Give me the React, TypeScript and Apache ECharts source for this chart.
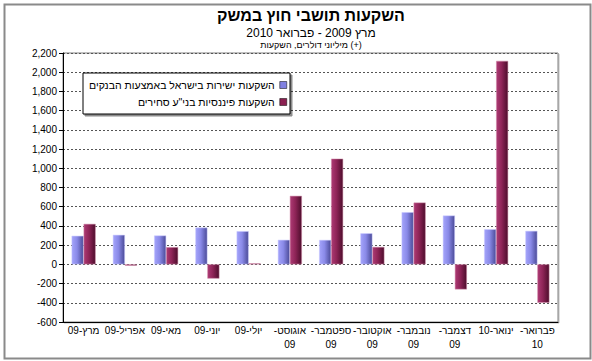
import React, { useEffect, useRef } from "react";
import * as echarts from "echarts";

const titleText = "השקעות תושבי חוץ במשק";
const subtitleText = "מרץ 2009 - פברואר 2010";
const unitText = "מיליוני דולרים, השקעות";
const unitSign = "(+)";

const categories = [
  "מרץ-09",
  "אפריל-09",
  "מאי-09",
  "יוני-09",
  "יולי-09",
  "אוגוסט-09",
  "ספטמבר-09",
  "אוקטובר-09",
  "נובמבר-09",
  "דצמבר-09",
  "ינואר-10",
  "פברואר-10",
];
const wrappedCategories = ["אוגוסט-09", "ספטמבר-09", "אוקטובר-09", "נובמבר-09", "דצמבר-09", "פברואר-10"];

const seriesNames = ["השקעות ישירות בישראל באמצעות הבנקים", 'השקעות פיננסיות בני"ע סחירים'];
const directViaBanks = [297, 307, 300, 383, 345, 255, 254, 323, 543, 508, 365, 348];
const financialSecurities = [421, -14, 179, -148, 10, 713, 1100, 181, 643, -261, 2118, -400];

const yMin = -600;
const yMax = 2200;
const yInterval = 200;

const FONT = 'Arial, "Liberation Sans", "DejaVu Sans", sans-serif';

export default function App() {
  const ref = useRef<HTMLDivElement>(null);
  useEffect(() => {
    document.body.style.margin = "0";
    const chart = echarts.init(ref.current!, undefined, { renderer: "svg" });
    const blueGrad = new echarts.graphic.LinearGradient(0, 0, 1, 0, [
      { offset: 0, color: "#a4a4fb" },
      { offset: 0.45, color: "#8a8ae8" },
      { offset: 1, color: "#4b4b98" },
    ]);
    const maroonGrad = new echarts.graphic.LinearGradient(0, 0, 1, 0, [
      { offset: 0, color: "#ad3a74" },
      { offset: 0.45, color: "#8e2457" },
      { offset: 1, color: "#4d0d2c" },
    ]);
    chart.setOption({
      animation: false,
      backgroundColor: "#ffffff",
      title: [
        {
          text: titleText,
          left: 306,
          top: 2,
          textAlign: "center",
          textStyle: { fontFamily: FONT, fontSize: 16, fontWeight: "bold", color: "#000" },
        },
        {
          text: subtitleText,
          left: 306,
          top: 22,
          textAlign: "center",
          textStyle: { fontFamily: FONT, fontSize: 12, fontWeight: "normal", color: "#000" },
        },
        {
          text: "{a|" + unitText + "}{b| " + unitSign + "}",
          left: 306,
          top: 35,
          textAlign: "center",
          textStyle: {
            fontFamily: FONT,
            fontSize: 9,
            fontWeight: "normal",
            color: "#000",
            rich: {
              a: { fontFamily: FONT, fontSize: 9, color: "#000" },
              b: { fontFamily: FONT, fontSize: 9, color: "#000" },
            },
          },
        },
      ],
      graphic: [
        {
          type: "rect",
          left: 2,
          top: 2,
          shape: { width: 586, height: 354 },
          style: { fill: "none", stroke: "#8a8a8a", lineWidth: 2 },
          silent: true,
        },
      ],
      legend: {
        orient: "vertical",
        left: 83,
        top: 73,
        align: "right",
        itemWidth: 7,
        itemHeight: 7,
        itemGap: 5,
        padding: [6, 3, 6, 6],
        backgroundColor: "#ffffff",
        borderColor: "#000000",
        borderWidth: 1,
        shadowColor: "rgba(0,0,0,0.45)",
        shadowOffsetX: 2,
        shadowOffsetY: 2,
        shadowBlur: 0,
        textStyle: { fontFamily: FONT, fontSize: 10.5, lineHeight: 12, color: "#000", padding: [0, 0, 0, 0] },
        data: [
          { name: seriesNames[0], icon: "rect", itemStyle: { color: "#8080e0", borderColor: "#000", borderWidth: 0.5 } },
          { name: seriesNames[1], icon: "rect", itemStyle: { color: "#8a1f50", borderColor: "#000", borderWidth: 0.5 } },
        ],
      },
      grid: {
        left: 63,
        top: 53,
        width: 495,
        height: 269,
        show: true,
        borderColor: "#808080",
        borderWidth: 1,
        backgroundColor: "#ffffff",
        shadowColor: "rgba(0,0,0,0.25)",
        shadowOffsetX: 1,
        shadowOffsetY: 1,
      },
      xAxis: {
        type: "category",
        data: categories,
        position: "bottom",
        axisLine: { onZero: false, lineStyle: { color: "#000", width: 1 } },
        axisTick: { show: false },
        axisLabel: {
          interval: 0,
          margin: 1,
          fontFamily: FONT,
          fontSize: 10,
          color: "#000",
          lineHeight: 14,
          formatter: (v: string) => {
            if (wrappedCategories.includes(v)) {
              const i = v.indexOf("-");
              return v.slice(0, i + 1) + "\u200F\n" + v.slice(i + 1);
            }
            return v;
          },
        },
      },
      yAxis: {
        type: "value",
        min: yMin,
        max: yMax,
        interval: yInterval,
        axisLine: { show: true, lineStyle: { color: "#000", width: 1 } },
        axisTick: { show: true, length: 4, lineStyle: { color: "#000" } },
        axisLabel: {
          fontFamily: FONT,
          fontSize: 10,
          color: "#000",
          margin: 6,
          formatter: (v: number) => v.toLocaleString("en-US"),
        },
        splitLine: { show: true, lineStyle: { color: "#555", type: [2, 2], width: 1 } },
      },
      series: [
        {
          name: seriesNames[0],
          type: "bar",
          data: directViaBanks,
          barWidth: 12,
          barGap: "0%",
          itemStyle: { color: blueGrad, borderColor: "#c8c8ff", borderWidth: 0.5 },
        },
        {
          name: seriesNames[1],
          type: "bar",
          data: financialSecurities,
          barWidth: 12,
          barGap: "0%",
          itemStyle: { color: maroonGrad, borderColor: "#d08aa8", borderWidth: 0.5 },
        },
      ],
    });
    return () => chart.dispose();
  }, []);
  return <div ref={ref} style={{ width: 592, height: 361 }} />;
}
